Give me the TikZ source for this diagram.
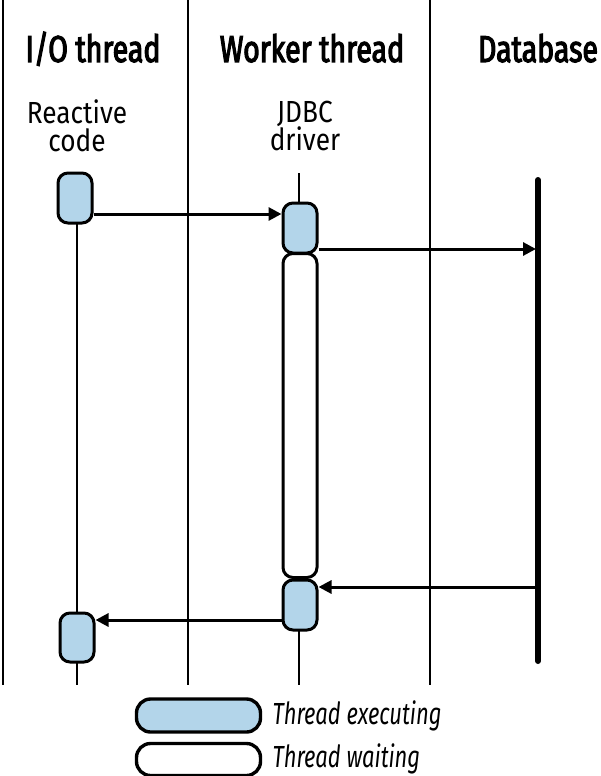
\documentclass[tikz,border=0pt]{standalone}
\usepackage{fontspec}
\setmainfont{Fira Sans}[FakeStretch=0.86]
\newfontfamily\headfont{Fira Sans}[FakeStretch=0.76,FakeBold=3]
\newfontfamily\legfont{Fira Sans}[FakeStretch=0.72]
\usetikzlibrary{arrows.meta,calc}
\definecolor{execblue}{RGB}{179,213,234}
\tikzset{
  sep/.style={line width=2.4pt,black},
  life/.style={line width=1.8pt,black},
  dbline/.style={line width=6pt,black,line cap=round},
  actbox/.style={draw=black,line width=3pt,rounded corners=10pt,fill=execblue,minimum width=34pt,inner sep=0pt},
  waitbox/.style={draw=black,line width=3pt,rounded corners=10pt,fill=white,minimum width=34pt,inner sep=0pt},
  legbox/.style={draw=black,line width=3.4pt,rounded corners=14pt,minimum width=124pt,inner sep=0pt},
  arr/.style={line width=3pt,-{Triangle[length=13pt,width=13pt]}},
  head/.style={font=\headfont\fontsize{37.5}{37.5}\selectfont,anchor=base},
  lbl/.style={font=\fontsize{30.5}{28}\selectfont,align=center,anchor=center},
  leg/.style={font=\legfont\itshape\fontsize{30.5}{30.5}\selectfont,anchor=base west},
}
\begin{document}
\begin{tikzpicture}[x=1pt,y=-1pt]
\useasboundingbox (0,0) rectangle (600,776);
% separators
\coordinate (s1t) at (3,0);   \coordinate (s1b) at (3,685);
\coordinate (s2t) at (188,0); \coordinate (s2b) at (188,685);
\coordinate (s3t) at (430,0); \coordinate (s3b) at (430,685);
\draw[sep] (s1t) -- (s1b);
\draw[sep] (s2t) -- (s2b);
\draw[sep] (s3t) -- (s3b);
% headings
\node[head] (h1) at (93,62) {I/O thread};
\node[head] (h2) at (312,62) {Worker thread};
\node[head] (h3) at (538,62) {Database};
\node[lbl] (l1) at (77,126) {Reactive\\code};
\node[lbl] (l2) at (305,126) {JDBC\\driver};
% lifelines
\coordinate (iot) at (77,200); \coordinate (iob) at (77,685);
\coordinate (wt) at (299,173); \coordinate (wb) at (299,685);
\draw[life] (iot) -- (iob);
\draw[life] (wt) -- (wb);
\coordinate (dbt) at (538,180); \coordinate (dbb) at (538,661);
\draw[dbline] (dbt) -- (dbb);
% activation boxes
\node[actbox,minimum height=50pt] (io1) at (75,198) {};
\node[actbox,minimum height=49pt] (io2) at (77,637.5) {};
\node[actbox,minimum height=50pt] (w1) at (300,228) {};
\node[waitbox,minimum height=324pt] (ww) at (300,415.5) {};
\node[actbox,minimum height=50pt] (w2) at (300,605) {};
% arrows
\coordinate (a1) at (0,214);
\coordinate (a2) at (0,249);
\coordinate (a3) at (0,587);
\coordinate (a4) at (0,620);
\draw[arr] (io1.east |- a1) -- (w1.west |- a1);
\draw[arr] (w1.east |- a2) -- ($(dbt |- a2)+(-2,0)$);
\draw[arr] (dbt |- a3) -- (w2.east |- a3);
\draw[arr] (w2.west |- a4) -- (io2.east |- a4);
% legend
\node[legbox,fill=execblue,minimum height=33pt] (le) at (198.5,715.5) {};
\node[legbox,fill=white,minimum height=32pt] (lw) at (198.5,759.5) {};
\node[leg] (let) at (269,724) {Thread executing};
\node[leg] (lwt) at (269,767) {Thread waiting};
\end{tikzpicture}
\end{document}
